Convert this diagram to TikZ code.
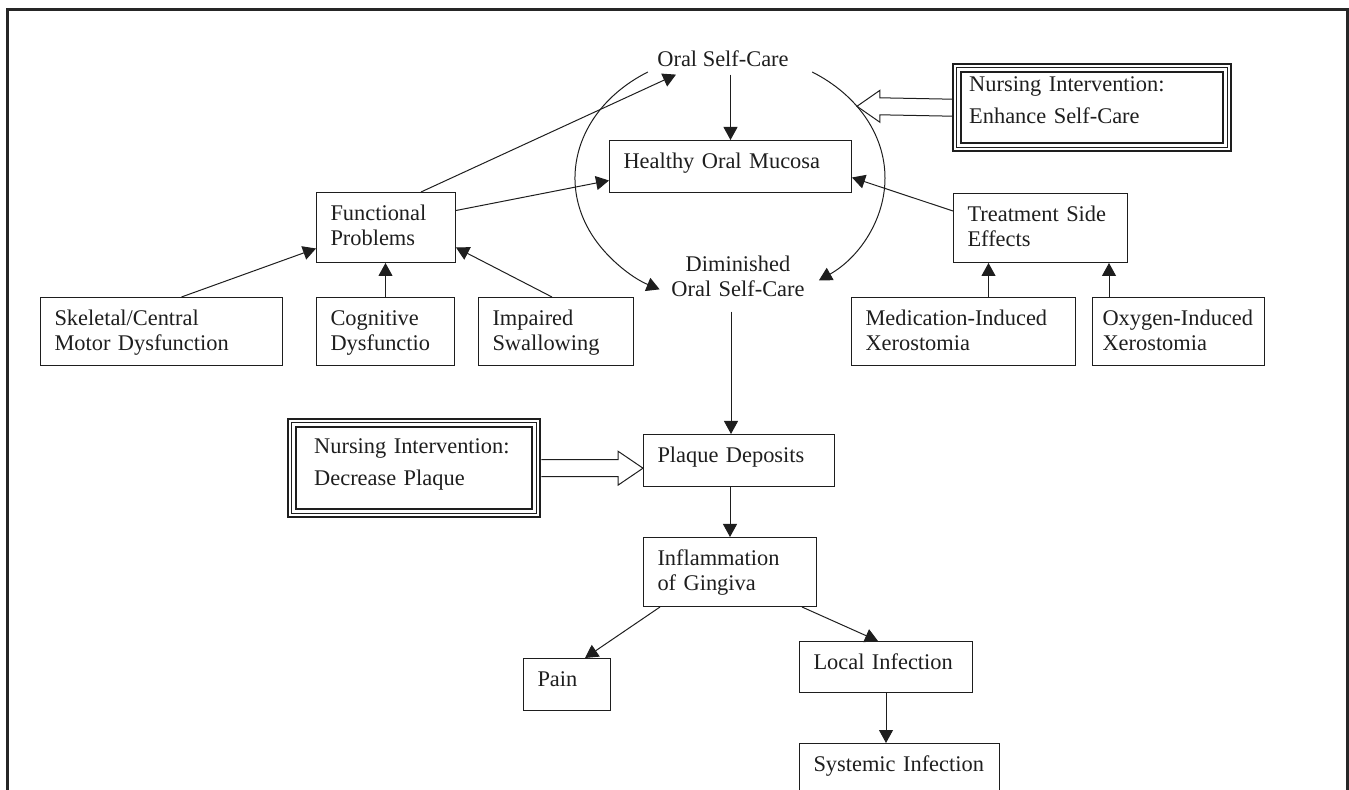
\documentclass[tikz,border=0pt]{standalone}
\usepackage{fontspec}
\setmainfont{Liberation Serif}
\usepackage{tikz}
\usetikzlibrary{arrows.meta, calc}
\definecolor{cInk}{HTML}{1E1E1E}
\definecolor{cFrame}{HTML}{262626}

\begin{document}
\begin{tikzpicture}[
    x=0.5pt, y=0.5pt,
    every node/.style={font=\fontsize{11.2}{12.5}\selectfont, text=cInk},
    bx/.style={draw=cInk, line width=0.5pt, anchor=north west, align=left,
               inner xsep=7pt, inner ysep=0pt, text height=14pt},
    nib/.style={bx, line width=1.2pt, font=\fontsize{11.2}{16}\selectfont},
    lbl/.style={align=center, inner sep=3.5pt},
    ar/.style={-{Triangle[length=6.5pt,width=7pt]}, line width=0.5pt, draw=cInk},
    hol/.style={line width=0.5pt, draw=cInk, line join=miter},
]
\useasboundingbox (0,0) rectangle (1349,-790);

% === FRAME (open at the bottom) ===
\draw[line width=1.5pt, cFrame] (7,-790) -- (7,-10) -- (1347,-10) -- (1347,-790);

% === CYCLE: Oral Self-Care -> Healthy Mucosa -> Diminished ===
\node[lbl, anchor=base] (osc) at (723,-67) {Oral Self-Care};
\node[bx, text width=107pt, text depth=12pt] (hom) at (609,-140) {Healthy Oral Mucosa};
\node[lbl, anchor=base, text width=70pt, inner sep=7pt] (dosc) at (738,-272) {Diminished\\Oral Self-Care};
\coordinate (cyc) at (730,-178);

\draw[ar] (hom.north |- osc.south) -- (hom.north);
\draw[ar] ([shift={(122:77.5pt and 62.5pt)}]cyc) arc[start angle=122, end angle=243, x radius=77.5pt, y radius=62.5pt];
\draw[ar] ([shift={(58:77.5pt and 62.5pt)}]cyc) arc[start angle=58, end angle=-55, x radius=77.5pt, y radius=62.5pt];

% === LEFT: functional problems and their causes ===
\node[bx, text width=55.5pt, text depth=21pt] (func) at (316,-192) {Functional\\Problems};
\node[bx, text width=107pt, text depth=20pt] (skel) at (40,-297) {Skeletal/Central\\Motor Dysfunction};
\node[bx, text width=55pt, text depth=20pt] (cogn) at (316,-297) {Cognitive\\Dysfunctio};
\node[bx, text width=63.5pt, text depth=20pt] (swal) at (478,-297) {Impaired\\Swallowing};

\draw[ar] ([xshift=17.5pt]func.north) -- ([xshift=13pt]osc.south west);
\draw[ar] ([yshift=8.5pt]func.east) -- ([yshift=-7pt]hom.west);
\draw[ar] ([xshift=10pt]skel.north) -- ([yshift=-10.5pt]func.west);
\draw[ar] (cogn.north) -- (cogn.north |- func.south);
\draw[ar] ([xshift=-2pt]swal.north) -- ([yshift=-10pt]func.east);

% === RIGHT: treatment side effects ===
\node[bx, text width=73pt, text depth=20.5pt] (tse) at (953,-193) {Treatment Side\\Effects};
\node[bx, text width=98pt, text depth=20pt] (medx) at (851,-297) {Medication-Induced\\Xerostomia};
\node[bx, inner xsep=5pt, text width=76pt, text depth=20pt] (oxx) at (1092,-297) {Oxygen-Induced\\Xerostomia};

\coordinate (oxa) at ([xshift=-9.5pt]tse.south east);
\draw[ar] ([yshift=8.5pt]tse.west) -- ([yshift=-5.5pt]hom.east);
\draw[ar] ([xshift=12.5pt]medx.north) -- ([xshift=12.5pt]medx.north |- tse.south);
\draw[ar] (oxa |- oxx.north) -- (oxa);

% === NURSING INTERVENTIONS (triple rim, hollow arrows) ===
\node[nib, inner xsep=8pt, text width=123pt, text height=13.5pt, text depth=30pt] (enh) at (952,-63) {Nursing Intervention:\\Enhance Self-Care};
\node[nib, inner xsep=13pt, text width=100pt, text height=17pt, text depth=32pt] (dpq) at (287,-418) {Nursing Intervention:\\Decrease Plaque};
\foreach \n in {enh,dpq} {
  \draw[cInk, line width=0.6pt] ([shift={(2.4pt,-2.4pt)}]\n.north west) rectangle ([shift={(-2.4pt,2.4pt)}]\n.south east);
  \draw[cInk, line width=1pt] ([shift={(4.5pt,-4.5pt)}]\n.north west) rectangle ([shift={(-4.5pt,4.5pt)}]\n.south east);
}

% === LOWER CHAIN: plaque -> gingiva -> pain / infection ===
\node[bx, text width=81.5pt, text depth=12pt] (plq) at (643,-434) {Plaque Deposits};
\node[bx, text width=72.5pt, text depth=20.5pt] (inf) at (643,-537) {Inflammation\\of Gingiva};
\node[bx, text width=29.5pt, text depth=12pt] (pain) at (523,-658) {Pain};
\node[bx, text width=72.5pt, text depth=11.5pt] (loc) at (799,-641) {Local Infection};
\node[bx, text width=86pt, text depth=21pt] (sys) at (799,-743) {Systemic Infection};

\coordinate (dgo) at ([xshift=-4pt]plq.north);
\draw[ar] (dgo |- dosc.south) -- (dgo);
\draw[ar] (plq.south -| inf.north) -- (inf.north);
\draw[ar] ([xshift=8.5pt]inf.south west) -- ([xshift=9pt]pain.north);
\draw[ar] ([xshift=-7.5pt]inf.south east) -- ([xshift=-4pt]loc.north);
\draw[ar] (loc.south) -- (loc.south |- sys.north);

% hollow arrows
\path ([shift={(35:77.5pt and 62.5pt)}]cyc) coordinate (etip);
\coordinate (ptip) at (plq.west |- dpq.east);
\draw[hol] ([yshift=4.25pt]enh.west) -- ([shift={(11.5pt,4.25pt)}]etip) -- ([shift={(11.5pt,8pt)}]etip)
    -- (etip) -- ([shift={(11.5pt,-8pt)}]etip) -- ([shift={(11.5pt,-4.25pt)}]etip) -- ([yshift=-4.25pt]enh.west);
\draw[hol] ([yshift=4.25pt]dpq.east) -- ([shift={(-12.5pt,4.25pt)}]ptip) -- ([shift={(-12.5pt,8.5pt)}]ptip)
    -- (ptip) -- ([shift={(-12.5pt,-8.5pt)}]ptip) -- ([shift={(-12.5pt,-4.25pt)}]ptip) -- ([yshift=-4.25pt]dpq.east);

\end{tikzpicture}
\end{document}
